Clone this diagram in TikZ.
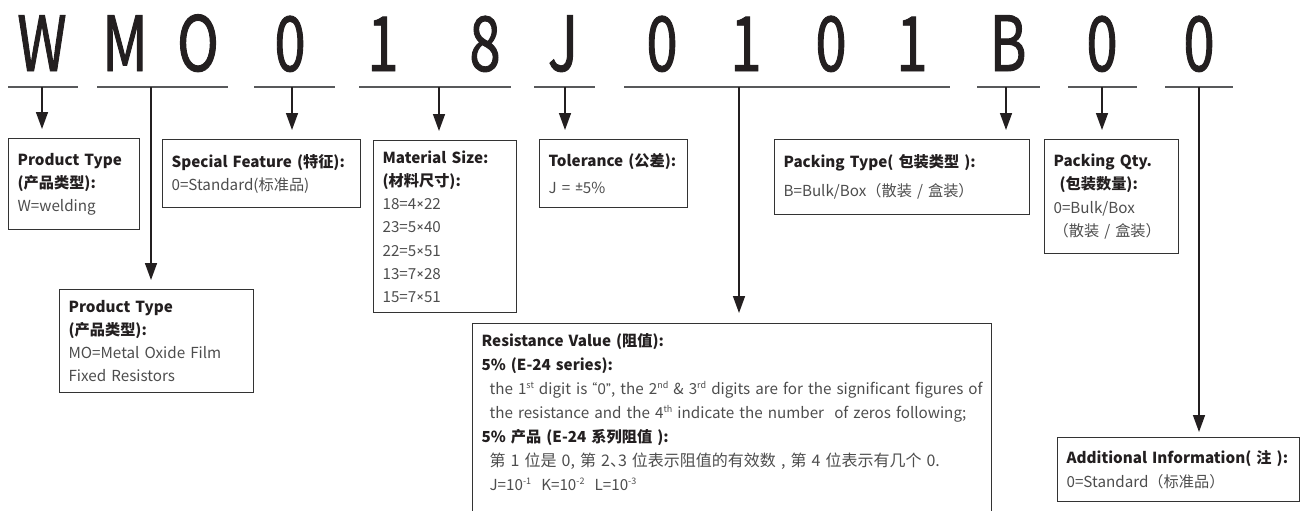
\documentclass[tikz,border=0pt]{standalone}
\usepackage{fontspec}
\setmainfont{Noto Sans CJK SC}
\newfontfamily\latin{PT Sans}
\newfontfamily\codefont[FakeStretch=0.74,FakeBold=1.2]{Noto Sans CJK SC}
\usetikzlibrary{arrows.meta}
\definecolor{inkDark}{HTML}{231F20}
\definecolor{lineGray}{HTML}{58595B}
\definecolor{valGray}{HTML}{4D4D4D}
\definecolor{boxStroke}{HTML}{333333}
\newcommand{\codeval}[1]{{\color{valGray}#1}}
\newcommand{\lt}[1]{{\latin #1}}
\newcommand{\upidx}[1]{\raisebox{3pt}{\fontsize{4.5}{4.5}\selectfont #1}}

\begin{document}
\begin{tikzpicture}[
  x=0.5pt,y=-0.5pt,
  font=\fontsize{7.6}{11.6}\selectfont,
  code/.style={anchor=base,inner sep=0pt,text=inkDark,font=\codefont\fontsize{38}{38}\selectfont},
  uline/.style={line width=1pt,draw=lineGray},
  box/.style={rectangle,draw=boxStroke,line width=.6pt,anchor=north west,align=left,inner xsep=4.5pt,inner ysep=5pt,text=inkDark},
  pick/.style={-{Triangle[length=8.5pt,width=6pt]},line width=.75pt,draw=inkDark,shorten >=4.5pt}
]
\clip (0,0) rectangle (1300,510);
% part number, one node per character
\foreach \ch/\cx [count=\i] in {W/42,M/125,O/198,0/290,1/383,8/485,J/563,0/662,1/746,0/831,1/912,B/1008,0/1102,0/1199}
  \node[code] (ch\i) at (\cx,71) {\ch};
% underline of each field and the point where its arrow starts
\foreach \a/\b/\t/\n in {8/78/42/tW,97/228/151/tMO,254/335/292/tFeat,359/511/439/tSize,534/595/565/tTol,624/950/739/tRes,977/1040/1006/tPack,1068/1137/1102/tQty,1165/1233/1199/tAdd}{
  \draw[uline] (\a,87) -- (\b,87);
  \coordinate (\n) at (\t,87);
}

\node[box,text width=56.5pt,minimum height=45.5pt] (typeW) at (8,138)
  {\textbf{Product Type}\\\textbf{(产品类型):}\\\codeval{W=welding}};
\node[box,text width=90pt,minimum height=34pt] (feature) at (162,139)
  {\textbf{Special Feature (特征):}\\\codeval{0=Standard(标准品)}};
\node[box,text width=62.5pt,minimum height=85pt] (size) at (373,140)
  {\textbf{Material Size:}\\\textbf{(材料尺寸):}\\\codeval{18=4\lt{×}22}\\\codeval{23=5\lt{×}40}\\\codeval{22=5\lt{×}51}\\\codeval{13=7\lt{×}28}\\\codeval{15=7\lt{×}51}};
\node[box,text width=65pt,minimum height=34pt] (tol) at (539,139)
  {\textbf{Tolerance (公差):}\\[2pt]\codeval{J = \lt{±}5\%}};
\node[box,text width=118.5pt,minimum height=37.5pt] (packType) at (774,139)
  {\textbf{Packing Type( 包装类型 ):}\\[3pt]\codeval{B=Bulk/Box（散装 / 盒装）}};
\node[box,text width=58pt,minimum height=57pt] (packQty) at (1044,139)
  {\textbf{Packing Qty.}\\\hspace*{3pt}\textbf{(包装数量):}\\\codeval{0=Bulk/Box}\\\codeval{（散装 / 盒装）}};
\node[box,text width=88pt,minimum height=51.5pt] (typeMO) at (59,289)
  {\textbf{Product Type}\\\textbf{(产品类型):}\\\codeval{MO=Metal Oxide Film}\\\codeval{Fixed Resistors}};
\node[box,text width=250.5pt,font=\fontsize{7.6}{12}\selectfont] (resist) at (472,323)
  {\textbf{Resistance Value (阻值):}\\
   \textbf{5\% (E-24 series):}\\
   \mbox{\hspace*{4pt}\codeval{the 1\upidx{st} digit is \lt{“0”}, the 2\upidx{nd} \& 3\upidx{rd} digits are for the significant figures of}}\\
   \mbox{\hspace*{4pt}\codeval{the resistance and the 4\upidx{th} indicate the number\ \ of zeros following;}}\\
   \textbf{5\% 产品 (E-24 系列阻值 ):}\\
   \mbox{\hspace*{4pt}\codeval{\fontsize{8}{12}\selectfont 第 1 位是 0, 第 2、\hspace{-4pt}3 位表示阻值的有效数 , 第 4 位表示有几个 0.}}\\
   \mbox{\hspace*{4pt}\codeval{J=10\upidx{-1}\ \ K=10\upidx{-2}\ \ L=10\upidx{-3}}}\\[30pt]\mbox{}};
\node[box,text width=112pt,minimum height=32pt] (addInfo) at (1057,437)
  {\textbf{Additional Information( 注 ):}\\\codeval{0=Standard（标准品）}};

\draw[pick] (tW) -- (tW |- typeW.north);
\draw[pick] (tMO) -- (tMO |- typeMO.north);
\draw[pick] (tFeat) -- (tFeat |- feature.north);
\draw[pick] (tSize) -- (tSize |- size.north);
\draw[pick] (tTol) -- (tTol |- tol.north);
\draw[pick,shorten >=5pt] (tRes) -- (tRes |- resist.north);
\draw[pick] (tPack) -- (tPack |- packType.north);
\draw[pick] (tQty) -- (tQty |- packQty.north);
\draw[pick,shorten >=2.5pt] (tAdd) -- (tAdd |- addInfo.north);
\end{tikzpicture}
\end{document}
